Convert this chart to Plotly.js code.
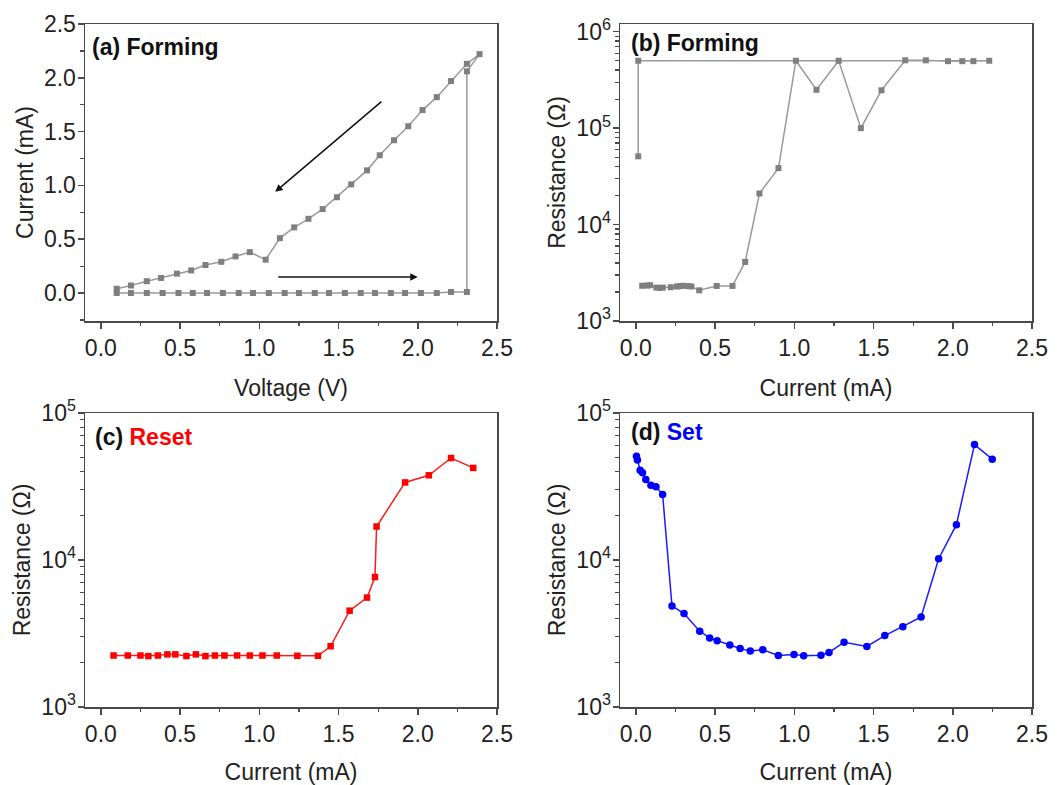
<!DOCTYPE html>
<html>
<head>
<meta charset="utf-8">
<script src="https://cdn.plot.ly/plotly-3.0.1.min.js"></script>
<style>html,body{margin:0;padding:0;background:#fff;}#chart{width:1060px;height:785px;}</style>
</head>
<body>
<div id="chart"></div>
<script>
// ---- Panel (a) Forming: I-V sweep ----
const formingVoltage = [0.10, 0.19, 0.29, 0.39, 0.49, 0.58, 0.67, 0.77, 0.87, 0.96, 1.06, 1.16, 1.25, 1.35, 1.44, 1.54, 1.64, 1.73, 1.83, 1.92, 2.02, 2.12, 2.21, 2.31,
  2.31, 2.39, 2.31, 2.21, 2.12, 2.03, 1.94, 1.85, 1.76, 1.68, 1.58, 1.49, 1.40, 1.31, 1.22, 1.13, 1.04, 0.94, 0.85, 0.76, 0.66, 0.57, 0.48, 0.38, 0.29, 0.19, 0.10];
const formingCurrent = [0.00, 0.00, 0.00, 0.00, 0.00, 0.00, 0.00, 0.00, 0.00, 0.00, 0.00, 0.00, 0.00, 0.00, 0.00, 0.00, 0.00, 0.00, 0.00, 0.00, 0.00, 0.00, 0.01, 0.01,
  2.06, 2.22, 2.13, 1.97, 1.82, 1.70, 1.55, 1.42, 1.28, 1.14, 1.01, 0.89, 0.78, 0.69, 0.61, 0.51, 0.31, 0.38, 0.34, 0.29, 0.26, 0.21, 0.18, 0.14, 0.11, 0.07, 0.04];

// ---- Panel (b) Forming: R vs I ----
const formingRCurrent = [0.015, 0.015, 2.23, 2.13, 2.06, 1.97, 1.83, 1.70, 1.55, 1.42, 1.28, 1.14, 1.01, 0.90, 0.78, 0.69, 0.61, 0.51, 0.40, 0.35, 0.33, 0.30, 0.28, 0.26, 0.22, 0.17, 0.15, 0.13, 0.09, 0.07, 0.04];
const formingResistance = [5.1e4, 5.0e5, 5.0e5, 4.95e5, 4.95e5, 4.95e5, 5.05e5, 5.05e5, 2.47e5, 1.0e5, 5.0e5, 2.5e5, 5.0e5, 3.85e4, 2.1e4, 4.1e3, 2.31e3, 2.31e3, 2.08e3, 2.28e3, 2.3e3, 2.32e3, 2.3e3, 2.28e3, 2.24e3, 2.22e3, 2.2e3, 2.22e3, 2.35e3, 2.33e3, 2.32e3];

// ---- Panel (c) Reset ----
const resetCurrent = [0.08, 0.17, 0.25, 0.30, 0.36, 0.42, 0.47, 0.54, 0.60, 0.66, 0.72, 0.78, 0.86, 0.94, 1.02, 1.11, 1.24, 1.37, 1.45, 1.57, 1.68, 1.73, 1.74, 1.92, 2.07, 2.21, 2.35];
const resetResistance = [2.24e3, 2.24e3, 2.24e3, 2.22e3, 2.24e3, 2.28e3, 2.28e3, 2.22e3, 2.28e3, 2.22e3, 2.24e3, 2.24e3, 2.24e3, 2.24e3, 2.24e3, 2.24e3, 2.23e3, 2.23e3, 2.59e3, 4.52e3, 5.55e3, 7.66e3, 1.69e4, 3.37e4, 3.77e4, 4.94e4, 4.23e4];

// ---- Panel (d) Set ----
const setCurrent = [0.004, 0.01, 0.027, 0.042, 0.063, 0.095, 0.127, 0.169, 0.228, 0.304, 0.403, 0.466, 0.513, 0.593, 0.658, 0.722, 0.801, 0.899, 0.998, 1.059, 1.168, 1.219, 1.314, 1.458, 1.571, 1.685, 1.80, 1.911, 2.023, 2.137, 2.249];
const setResistance = [5.08e4, 4.78e4, 4.08e4, 3.92e4, 3.53e4, 3.23e4, 3.15e4, 2.79e4, 4.87e3, 4.32e3, 3.28e3, 2.95e3, 2.82e3, 2.64e3, 2.50e3, 2.40e3, 2.45e3, 2.24e3, 2.28e3, 2.23e3, 2.25e3, 2.35e3, 2.76e3, 2.58e3, 3.06e3, 3.52e3, 4.10e3, 1.02e4, 1.74e4, 6.1e4, 4.85e4];

// ---- Tick labels ----
const linTickVals = [0, 0.5, 1.0, 1.5, 2.0, 2.5];
const linTickText = ['0.0', '0.5', '1.0', '1.5', '2.0', '2.5'];
const logTickVals = [1e3, 1e4, 1e5, 1e6];
const logTickText = ['10<sup>3</sup>', '10<sup>4</sup>', '10<sup>5</sup>', '10<sup>6</sup>'];
const logMinorVals = [2e3,3e3,4e3,5e3,6e3,7e3,8e3,9e3,2e4,3e4,4e4,5e4,6e4,7e4,8e4,9e4,2e5,3e5,4e5,5e5,6e5,7e5,8e5,9e5];

const FONT = 'Liberation Sans, Arial, sans-serif';
const AXC = '#4a4a4a';
const tickFont = {family: FONT, size: 23, color: '#222'};
const titleFont = {family: FONT, size: 23, color: '#222'};

function linX(domain, title) {
  return {
    domain: domain, range: [-0.1, 2.5], tickmode: 'array', tickvals: linTickVals, ticktext: linTickText,
    ticks: 'outside', ticklen: 6, tickwidth: 1.5, tickcolor: AXC,
    minor: {tickmode: 'linear', tick0: 0, dtick: 0.25, ticks: 'outside', ticklen: 3.5, tickwidth: 1.2, tickcolor: AXC},
    showline: true, linecolor: AXC, linewidth: 1.5, mirror: true, showgrid: false, zeroline: false,
    tickfont: tickFont, title: {text: title, font: titleFont, standoff: 20}, automargin: false
  };
}
function logY(domain, top, title) {
  return {
    domain: domain, type: 'log', range: [3, top], tickmode: 'array', tickvals: logTickVals, ticktext: logTickText,
    ticks: 'outside', ticklen: 6, tickwidth: 1.5, tickcolor: AXC,
    minor: {tickmode: 'array', tickvals: logMinorVals, ticks: 'outside', ticklen: 3.5, tickwidth: 1.2, tickcolor: AXC},
    showline: true, linecolor: AXC, linewidth: 1.5, mirror: true, showgrid: false, zeroline: false,
    ticklabelstandoff: -3,
    tickfont: tickFont, title: {text: title, font: titleFont, standoff: 4}, automargin: false
  };
}

const xL = [85/1060, 497/1060];
const xR = [620/1060, 1032/1060];
const yT = [464/785, 761/785];
const yB = [78/785, 372/785];

const gray = '#7f7f7f';
const traces = [
  {x: formingVoltage, y: formingCurrent, xaxis: 'x', yaxis: 'y', mode: 'lines+markers',
   line: {color: '#9a9a9a', width: 1.5}, marker: {symbol: 'square', size: 6, color: gray}},
  {x: formingRCurrent, y: formingResistance, xaxis: 'x2', yaxis: 'y2', mode: 'lines+markers',
   line: {color: '#9a9a9a', width: 1.5}, marker: {symbol: 'square', size: 6, color: gray}},
  {x: resetCurrent, y: resetResistance, xaxis: 'x3', yaxis: 'y3', mode: 'lines+markers',
   line: {color: '#ff1a1a', width: 1.5}, marker: {symbol: 'square', size: 6.5, color: '#ff0000'}},
  {x: setCurrent, y: setResistance, xaxis: 'x4', yaxis: 'y4', mode: 'lines+markers',
   line: {color: '#1a1aff', width: 1.5}, marker: {symbol: 'circle', size: 7.5, color: '#0000ff'}}
];

const yA = {
  domain: yT, range: [-0.26, 2.5], tickmode: 'array', tickvals: linTickVals, ticktext: linTickText,
  ticks: 'outside', ticklen: 6, tickwidth: 1.5, tickcolor: AXC,
  minor: {tickmode: 'linear', tick0: 0, dtick: 0.25, ticks: 'outside', ticklen: 3.5, tickwidth: 1.2, tickcolor: AXC},
  showline: true, linecolor: AXC, linewidth: 1.5, mirror: true, showgrid: false, zeroline: false,
  ticklabelstandoff: -3,
  tickfont: tickFont, title: {text: 'Current (mA)', font: titleFont, standoff: 4}, automargin: false
};

const labelFont = {family: FONT, size: 23, color: '#111'};
const layout = {
  width: 1060, height: 785, margin: {l: 0, r: 0, t: 0, b: 0},
  paper_bgcolor: '#fff', plot_bgcolor: '#fff', showlegend: false,
  xaxis: Object.assign(linX(xL, 'Voltage (V)'), {anchor: 'y'}),
  yaxis: Object.assign(yA, {anchor: 'x'}),
  xaxis2: Object.assign(linX(xR, 'Current (mA)'), {anchor: 'y2'}),
  yaxis2: Object.assign(logY(yT, 6.08, 'Resistance (Ω)'), {anchor: 'x2'}),
  xaxis3: Object.assign(linX(xL, 'Current (mA)'), {anchor: 'y3'}),
  yaxis3: Object.assign(logY(yB, 5, 'Resistance (Ω)'), {anchor: 'x3'}),
  xaxis4: Object.assign(linX(xR, 'Current (mA)'), {anchor: 'y4'}),
  yaxis4: Object.assign(logY(yB, 5, 'Resistance (Ω)'), {anchor: 'x4'}),
  annotations: [
    {xref: 'paper', yref: 'paper', x: 90/1060, y: 1 - 47/785, xanchor: 'left', yanchor: 'middle', showarrow: false,
     text: '<b>(a) Forming</b>', font: labelFont},
    {xref: 'paper', yref: 'paper', x: 629/1060, y: 1 - 43/785, xanchor: 'left', yanchor: 'middle', showarrow: false,
     text: '<b>(b) Forming</b>', font: labelFont},
    {xref: 'paper', yref: 'paper', x: 93/1060, y: 1 - 437/785, xanchor: 'left', yanchor: 'middle', showarrow: false,
     text: '<b>(c) <span style="color:#ff0000">Reset</span></b>', font: labelFont},
    {xref: 'paper', yref: 'paper', x: 629/1060, y: 1 - 432/785, xanchor: 'left', yanchor: 'middle', showarrow: false,
     text: '<b>(d) <span style="color:#0000ff">Set</span></b>', font: labelFont},
    {xref: 'x', yref: 'y', x: 1.10, y: 0.94, ax: 1.78, ay: 1.79, axref: 'x', ayref: 'y', showarrow: true,
     arrowhead: 2, arrowsize: 1, arrowwidth: 1.5, arrowcolor: '#111', text: ''},
    {xref: 'x', yref: 'y', x: 2.00, y: 0.15, ax: 1.11, ay: 0.15, axref: 'x', ayref: 'y', showarrow: true,
     arrowhead: 2, arrowsize: 1, arrowwidth: 1.5, arrowcolor: '#111', text: ''}
  ]
};

Plotly.newPlot('chart', traces, layout, {staticPlot: true, displayModeBar: false});
</script>
</body>
</html>
